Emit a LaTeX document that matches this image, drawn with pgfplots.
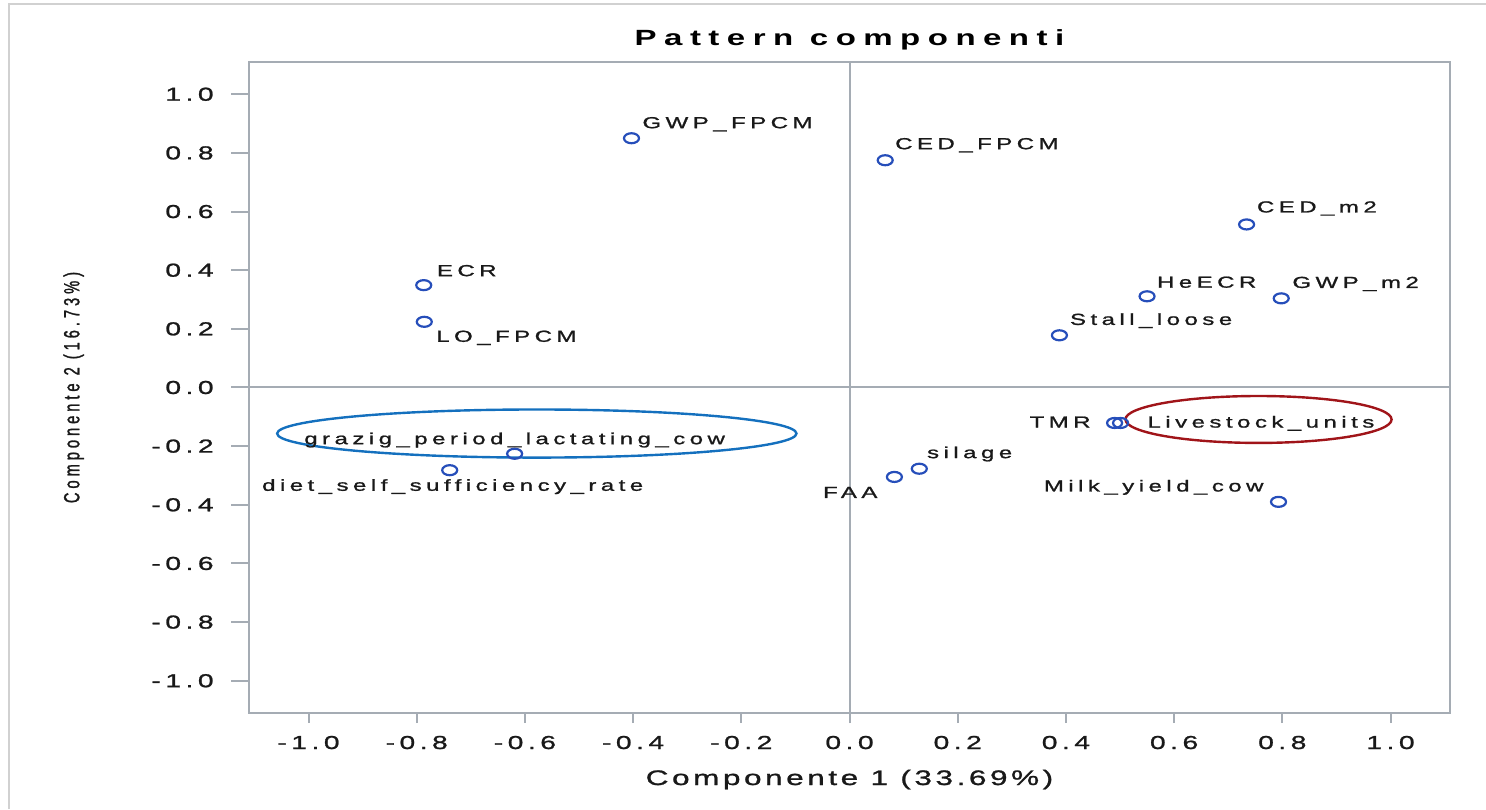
\documentclass[border=0pt]{standalone}
\usepackage{fontspec}
\setmainfont{Liberation Sans}[FakeStretch=1.5, LetterSpace=28, FakeBold=1.2]
\newfontfamily\tickfont{Liberation Sans}[FakeStretch=1.5, LetterSpace=24, FakeBold=1.2]
\newfontfamily\xlabfont{Liberation Sans}[FakeStretch=1.5, LetterSpace=17, FakeBold=1.2]
\newfontfamily\titlefont{Liberation Sans}[FakeStretch=1.5, LetterSpace=34]
\newfontfamily\yfont{Liberation Sans}[FakeStretch=0.667, LetterSpace=18, FakeBold=1.2]
\usepackage{pgfplots}
\pgfplotsset{compat=1.18}
\definecolor{axisgray}{RGB}{165,172,180}
\definecolor{markblue}{RGB}{38,78,186}
\definecolor{ellblue}{RGB}{20,112,190}
\definecolor{ellred}{RGB}{160,20,25}
\definecolor{txt}{RGB}{25,25,25}
% label placement: dx, dy (pt) of the text baseline start/end/centre from the marker
\newcommand\LW[3]{\rlap{\hspace*{#1pt}\raisebox{#2pt}[0pt][0pt]{#3}}}
\newcommand\LE[3]{\llap{\raisebox{#2pt}[0pt][0pt]{#3}\hspace*{-#1pt}}}
\newcommand\LC[3]{\makebox[0pt][c]{\hspace*{#1pt}\raisebox{#2pt}[0pt][0pt]{#3}}}

\begin{document}
\begin{tikzpicture}
\path[use as bounding box] (-124.5pt,-48pt) rectangle (618.5pt,356.5pt);
\draw[black!18, line width=1pt] (-120pt,-48pt) -- (-120pt,354.5pt) -- (618.5pt,354.5pt);
\begin{axis}[
  at={(0pt,0pt)}, anchor=south west,
  scale only axis, width=600.5pt, height=325.5pt,
  xmin=-1.11, xmax=1.11, ymin=-1.11, ymax=1.11,
  xtick={-1,-0.8,-0.6,-0.4,-0.2,0,0.2,0.4,0.6,0.8,1},
  xticklabels={-1.0,-0.8,-0.6,-0.4,-0.2,0.0,0.2,0.4,0.6,0.8,1.0},
  ytick={-1,-0.8,-0.6,-0.4,-0.2,0,0.2,0.4,0.6,0.8,1},
  yticklabels={-1.0,-0.8,-0.6,-0.4,-0.2,0.0,0.2,0.4,0.6,0.8,1.0},
  xtick pos=lower, ytick pos=left,
  tick align=outside, major tick length=5pt,
  tick style={axisgray, line width=1pt},
  ytick style={draw=none},
  axis line style={axisgray, line width=1pt},
  extra x ticks={0}, extra x tick labels={},
  extra x tick style={grid=major, major grid style={axisgray, line width=1pt}},
  extra y ticks={0}, extra y tick labels={},
  extra y tick style={grid=major, major grid style={axisgray, line width=1pt}},
  /pgf/number format/assume math mode=true,
  xticklabel style={font=\tickfont\fontsize{9.4}{11}\selectfont, text=txt, anchor=base, yshift=-13pt},
  yticklabel style={font=\tickfont\fontsize{9.4}{11}\selectfont, text=txt, anchor=east, inner sep=0pt, xshift=-12.5pt},
  title={Pattern componenti},
  title style={font=\titlefont\bfseries\fontsize{11}{13}\selectfont, at={(axis description cs:0.5,1)}, anchor=base, yshift=2pt},
  xlabel={Componente 1 (33.69\%)},
  xlabel style={font=\xlabfont\fontsize{10.5}{12}\selectfont, text=txt, at={(axis description cs:0.5,0)}, anchor=base, yshift=-36pt},
  ylabel={Componente 2 (16.73\%)},
  ylabel style={font=\yfont\fontsize{11}{13}\selectfont, text=txt, at={(axis description cs:-0.146,0.5)}, anchor=center},
  clip=false,
]
\addplot[only marks, mark=o, mark size=2.5pt,
  mark options={xscale=1.5, line width=1.1pt, draw=markblue},
  point meta=explicit symbolic,
  nodes near coords,
  nodes near coords style={font=\fontsize{8}{9}\selectfont, text=txt, inner sep=0pt, anchor=base},
] coordinates {
(-0.403,0.850) [\LW{5.5}{5}{GWP\_FPCM}]
(0.066,0.775) [\LW{5}{5.5}{CED\_FPCM}]
(0.734,0.556) [\LW{5.2}{6}{CED\_m2}]
(-0.787,0.349) [\LW{6.6}{4.5}{ECR}]
(-0.786,0.224) [\LW{6}{-10}{LO\_FPCM}]
(0.550,0.311) [\LW{5}{4.3}{HeECR}]
(0.798,0.304) [\LW{5.6}{5.2}{GWP\_m2}]
(0.388,0.178) [\LW{5.3}{5.2}{Stall\_loose}]
(0.490,-0.121) [\LE{-12}{-2.3}{TMR}]
(0.501,-0.121) [\LW{13.5}{-2.3}{Livestock\_units}]
(-0.619,-0.226) [\LC{0}{4.8}{grazig\_period\_lactating\_cow}]
(-0.739,-0.282) [\LC{3}{-10.3}{diet\_self\_sufficiency\_rate}]
(0.083,-0.305) [\LE{-8.5}{-10.5}{FAA}]
(0.129,-0.277) [\LW{3.9}{5.3}{silage}]
(0.793,-0.390) [\LE{-7.5}{5.2}{Milk\_yield\_cow}]
};
\draw[ellblue, line width=1.2pt] (axis cs:-0.578,-0.157) ellipse [x radius=0.480, y radius=0.082];
\draw[ellred, line width=1.2pt] (axis cs:0.756,-0.109) ellipse [x radius=0.246, y radius=0.080];
\end{axis}
\begin{axis}[
  at={(0pt,0pt)}, anchor=south west,
  scale only axis, width=600.5pt, height=325.5pt,
  xmin=-1.11, xmax=1.11, ymin=-1.11, ymax=1.11,
  axis line style={draw=none},
  xtick=\empty,
  ytick={-1,-0.8,-0.6,-0.4,-0.2,0,0.2,0.4,0.6,0.8,1},
  yticklabels={},
  ytick pos=left, tick align=outside, major tick length=9pt,
  tick style={axisgray, line width=1pt},
]
\end{axis}
\end{tikzpicture}
\end{document}
